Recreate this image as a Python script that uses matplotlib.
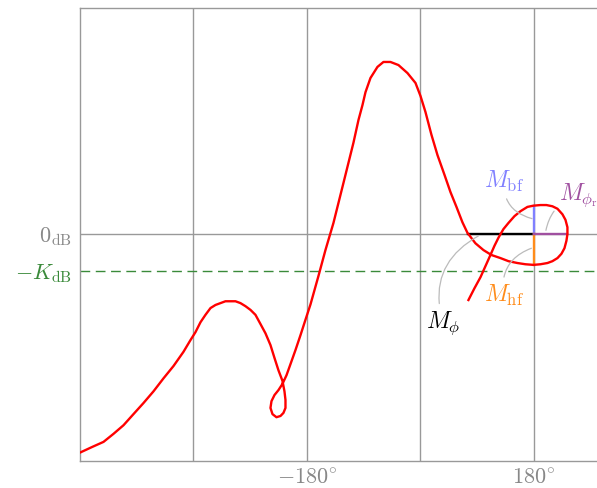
import matplotlib.pyplot as plt

plt.rcParams['mathtext.fontset'] = 'cm'
plt.rcParams['font.family'] = 'serif'
plt.rcParams['font.serif'] = ['DejaVu Serif']

# Nichols locus: phase (deg) and gain (dB)
phase = [-539.2, -520.2, -502.7, -486.9, -471.0, -455.2, -439.3, -423.4, -407.6, -391.7,
         -375.9, -364.8, -356.8, -348.9, -341.0, -333.0, -325.1, -317.2, -309.3, -301.3,
         -293.4, -285.5, -277.5, -269.6, -261.7, -253.7, -245.8, -237.9, -231.5, -225.2,
         -218.9, -215.7, -214.1, -214.1, -217.3, -222.0, -228.4, -234.7, -237.9, -236.3,
         -231.5, -225.2, -218.9, -212.5, -206.2, -198.2, -190.3, -182.4, -174.4, -161.8,
         -150.7, -138.0, -122.1, -106.3, -98.3, -92.0, -87.2, -79.3, -68.2, -58.7,
         -47.6, -34.9, -20.6, -7.9, 0.0, 7.9, 17.4, 27.0, 38.1, 47.6,
         57.1, 66.6, 74.5, 87.2, 99.9, 112.6, 126.9, 139.6, 153.8, 166.5,
         179.2, 190.3, 201.4, 209.3, 217.3, 223.6, 228.4, 231.5, 233.1, 233.1,
         230.0, 225.2, 217.3, 209.3, 199.8, 190.3, 179.2, 169.7, 158.6, 149.1,
         139.6, 131.6, 123.7, 117.4, 111.0, 103.1, 95.2, 85.6, 76.1]
gain = [-35.4, -34.5, -33.7, -32.4, -31.0, -29.2, -27.4, -25.5, -23.4, -21.4,
        -19.1, -17.2, -15.9, -14.3, -13.1, -12.0, -11.5, -11.2, -10.9, -10.9,
        -10.9, -11.2, -11.7, -12.3, -13.1, -14.6, -16.1, -18.0, -20.1, -22.1,
        -23.8, -25.5, -26.9, -28.2, -29.0, -29.5, -29.7, -29.2, -28.2, -27.1,
        -26.1, -25.3, -24.3, -22.9, -21.1, -18.8, -16.4, -13.9, -11.4, -6.8,
        -2.6, 1.8, 8.3, 14.8, 18.5, 20.9, 23.0, 25.3, 27.1, 27.9,
        27.9, 27.4, 26.1, 24.5, 22.4, 19.8, 16.1, 12.8, 9.6, 6.8,
        4.4, 1.9, 0.2, -1.5, -2.6, -3.4, -3.9, -4.4, -4.7, -4.9,
        -5.0, -4.9, -4.7, -4.4, -3.9, -3.2, -2.3, -1.1, 0.0, 1.1,
        2.3, 3.2, 4.1, 4.5, 4.7, 4.7, 4.6, 4.4, 3.7, 2.9,
        1.8, 0.8, -0.6, -1.9, -3.4, -5.2, -7.0, -8.8, -10.7]

K_dB = 6.0
phase_cross = 75      # 0 dB crossing on the falling branch
bf_top = 4.6          # gain at 180 deg, upper branch
hf_bottom = -5.0      # gain at 180 deg, lower branch
phi_r_end = 233       # 0 dB crossing on the right side of the loop

grid_color = '#999999'
text_gray = '#888888'
green = '#3a8a3a'
blue = '#8080ff'
orange = '#ff8c1a'
purple = '#a050a0'

fig = plt.figure(figsize=(5.97, 4.88), dpi=100)
ax = fig.add_axes([80 / 597, 27 / 488, 517 / 597, 453 / 488])

ax.set_xlim(-540, 280)
ax.set_ylim(-36.8, 36.65)

for xg in [-360, -180, 0, 180]:
    ax.axvline(xg, color=grid_color, lw=1, zorder=1)
ax.axhline(0, color=grid_color, lw=1, zorder=1)
ax.axhline(-K_dB, color=green, lw=1, ls=(0, (7, 4)), zorder=1)

ax.plot(phase, gain, color='red', lw=1.7, zorder=3, solid_joinstyle='round')

# margin segments
ax.plot([phase_cross, 180], [0, 0], color='black', lw=1.7, zorder=2)
ax.plot([180, 180], [0, bf_top], color=blue, lw=1.7, zorder=2)
ax.plot([180, 180], [0, hf_bottom], color=orange, lw=1.7, zorder=2)
ax.plot([180, phi_r_end], [0, 0], color=purple, lw=1.7, zorder=2)

lead = dict(arrowstyle='-', color='#bbbbbb', lw=0.9, shrinkA=2, shrinkB=0)
ax.annotate(r'$M_{\mathrm{bf}}$', xy=(177, 2.5), xytext=(132, 8.6),
            color=blue, fontsize=17, ha='center', va='center',
            arrowprops=dict(lead, connectionstyle='arc3,rad=0.4'))
ax.annotate(r'$M_{\phi_{\mathrm{r}}}$', xy=(199, 0.6), xytext=(250, 6.3),
            color=purple, fontsize=17, ha='center', va='center',
            arrowprops=dict(lead, connectionstyle='arc3,rad=0.3'))
ax.annotate(r'$M_{\mathrm{hf}}$', xy=(176, -2.3), xytext=(132, -9.9),
            color=orange, fontsize=17, ha='center', va='center',
            arrowprops=dict(lead, connectionstyle='arc3,rad=-0.4'))
ax.annotate(r'$M_\phi$', xy=(92, -0.3), xytext=(36, -14.4),
            color='black', fontsize=17, ha='center', va='center',
            arrowprops=dict(lead, connectionstyle='arc3,rad=-0.4'))

ax.set_xticks([-180, 180])
ax.set_xticklabels([r'$-180^{\circ}$', r'$180^{\circ}$'])
ax.set_yticks([0, -K_dB])
ax.set_yticklabels([r'$0_{\mathrm{dB}}$', r'$-K_{\mathrm{dB}}$'])
ax.tick_params(axis='x', length=0, labelsize=16, colors=text_gray, pad=4)
ax.tick_params(axis='y', length=0, labelsize=16, colors=text_gray, pad=6)
ax.get_yticklabels()[1].set_color(green)

for side in ['left', 'top', 'bottom']:
    ax.spines[side].set_color(grid_color)
    ax.spines[side].set_linewidth(1)
ax.spines['right'].set_visible(False)

fig.savefig('out.png', dpi=100)
